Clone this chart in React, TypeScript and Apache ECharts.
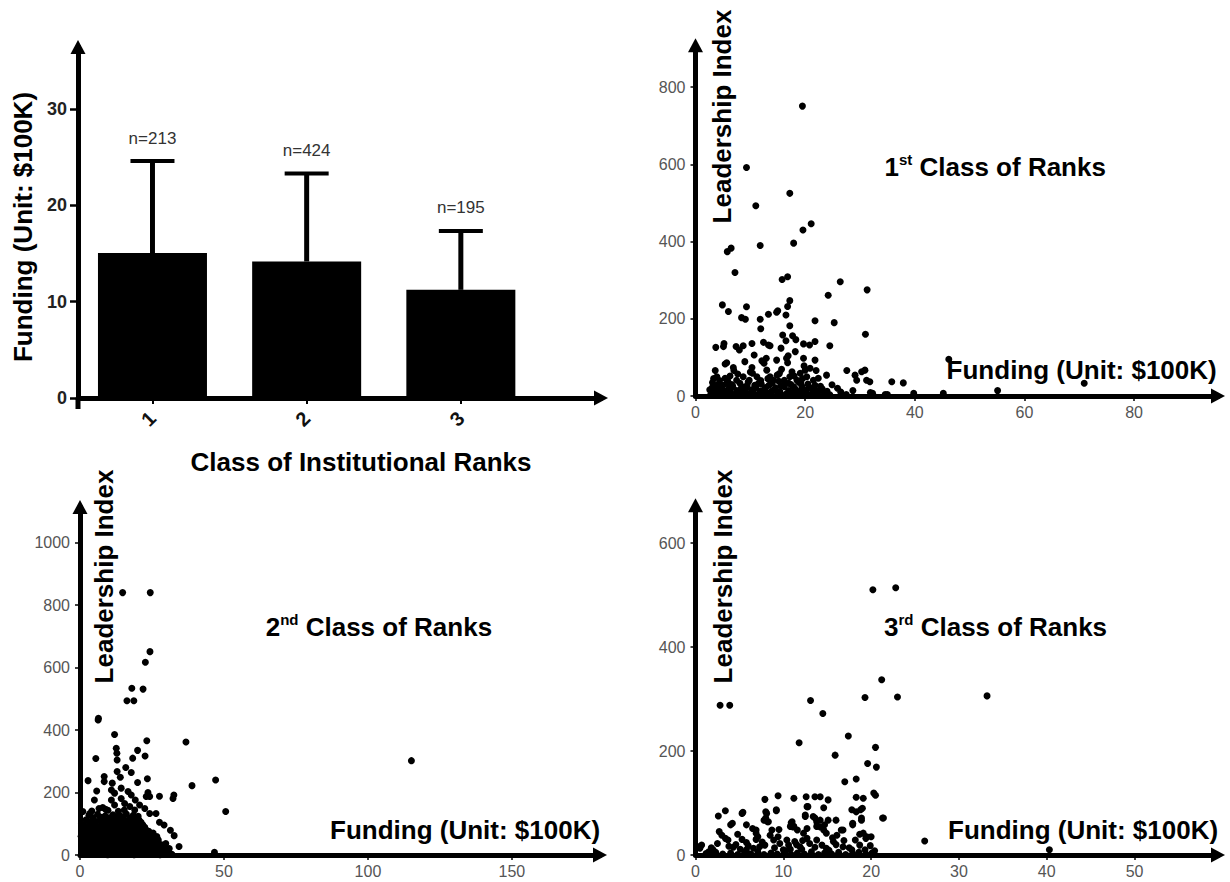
import React, { useEffect, useRef } from 'react';
import * as echarts from 'echarts';

// ---------- Data ----------
const rankClasses = [1, 2, 3];
const meanFunding = [15.05, 14.17, 11.23];
const upperFunding = [24.6, 23.3, 17.35];
const sampleSizes = [213, 424, 195];
const fundingTicks = [0, 10, 20, 30];

const class1FundingTicks = [0, 20, 40, 60, 80];
const class1LeaderTicks = [0, 200, 400, 600, 800];
const class2FundingTicks = [0, 50, 100, 150];
const class2LeaderTicks = [0, 200, 400, 600, 800, 1000];
const class3FundingTicks = [0, 10, 20, 30, 40, 50];
const class3LeaderTicks = [0, 200, 400, 600];

const class1Points = [
  [19.5, 751], [9.3, 592], [17.2, 525], [11.0, 493], [21.1, 446], [19.6, 430], [6.5, 383], [5.8, 374],
  [11.8, 390], [17.9, 396], [7.2, 320], [15.8, 302], [16.8, 309], [26.4, 296], [31.3, 275], [24.2, 261],
  [4.9, 236], [6.0, 219], [9.3, 231], [17.2, 247], [16.8, 232], [8.4, 203], [9.1, 199], [13.3, 212],
  [14.8, 217], [15.0, 221], [16.5, 210], [11.8, 199], [21.8, 195], [25.3, 190], [17.2, 182], [11.9, 174],
  [31.0, 160], [15.9, 158], [17.7, 156], [18.3, 146], [16.5, 143], [3.7, 126], [5.2, 136], [5.1, 128],
  [7.4, 128], [8.0, 119], [8.7, 130], [10.3, 136], [12.4, 139], [13.3, 132], [13.6, 130], [15.6, 124],
  [16.9, 104], [18.2, 115], [19.7, 135], [20.8, 132], [21.8, 141], [24.5, 130], [10.7, 106], [12.1, 91],
  [12.5, 85], [12.9, 98], [14.8, 93], [16.6, 98], [16.8, 86], [19.7, 98], [19.8, 78], [21.8, 93],
  [5.4, 83], [5.7, 86], [6.9, 74], [7.0, 66], [9.0, 89], [10.3, 74], [10.4, 59], [3.6, 66],
  [3.9, 50], [5.4, 46], [5.7, 33], [7.5, 41], [8.7, 50], [9.8, 41], [11.2, 50], [11.5, 33],
  [13.0, 67], [13.6, 50], [14.2, 41], [14.9, 54], [15.7, 69], [16.2, 41], [17.2, 50], [17.6, 63],
  [18.5, 41], [19.1, 59], [20.0, 67], [20.9, 72], [20.3, 50], [21.5, 41], [22.0, 66], [22.4, 46],
  [23.9, 54], [27.6, 66], [29.1, 54], [29.4, 41], [30.3, 63], [30.9, 67], [31.2, 41], [31.8, 37],
  [35.8, 37], [37.9, 34], [46.2, 95], [70.9, 33], [55.1, 14], [39.8, 7], [45.2, 7], [34.6, 4],
  [31.9, 9], [28.7, 14], [25.9, 20], [24.9, 29], [32.3, 7], [35.0, 4],
  [2.8, 5], [2.9, 12], [3.0, 20], [3.2, 26], [3.4, 8], [3.6, 15], [3.8, 2], [4.0, 22],
  [4.2, 10], [4.5, 4], [4.7, 17], [5.0, 28], [5.2, 6], [5.5, 13], [5.8, 3], [6.1, 20],
  [6.4, 9], [6.8, 25], [7.1, 4], [7.5, 14], [7.9, 7], [8.3, 19], [8.6, 2], [9.0, 11],
  [9.4, 27], [9.8, 5], [10.2, 16], [10.6, 8], [11.0, 22], [11.4, 3], [11.8, 13], [12.2, 6],
  [12.6, 18], [13.0, 9], [13.4, 28], [13.8, 4], [14.2, 15], [14.6, 21], [15.0, 7], [15.4, 11],
  [15.8, 2], [16.2, 24], [16.6, 6], [17.0, 14], [17.4, 30], [17.8, 9], [18.2, 18], [18.6, 4],
  [19.0, 12], [19.4, 25], [19.8, 7], [20.2, 16], [20.6, 3], [21.0, 20], [21.4, 10], [21.8, 28],
  [22.2, 5], [22.6, 14], [23.5, 8], [24.5, 3], [26.5, 10], [27.5, 4], [3.1, 35], [4.4, 40],
  [6.6, 30], [8.1, 33], [9.6, 36], [12.0, 31], [14.0, 34], [15.2, 38], [17.0, 33], [18.8, 36],
  [20.5, 31], [22.8, 25], [13.2, 45], [15.3, 58], [18.0, 52], [19.5, 45], [10.0, 62], [8.5, 24],
  [3.3, 45], [4.1, 30], [5.9, 38], [6.3, 52], [7.7, 57], [9.2, 20], [10.8, 28], [11.9, 40],
  [12.8, 22], [13.9, 12], [15.6, 26], [16.4, 33], [17.9, 24], [19.2, 34], [20.8, 22], [21.9, 15],
  [23.1, 19], [24.0, 12], [2.6, 16], [6.0, 12],
];

const class2Points = [
  [14.8, 840], [24.4, 840], [24.3, 651], [22.7, 617], [18.0, 534], [21.9, 531], [16.3, 494], [18.7, 494],
  [6.4, 438], [6.3, 432], [12.0, 386], [23.2, 366], [36.8, 362], [5.5, 309], [12.6, 342], [12.8, 326],
  [12.9, 304], [20.0, 335], [18.3, 310], [22.6, 317], [15.9, 280], [115.1, 302], [12.9, 267], [17.8, 264],
  [14.0, 249], [2.8, 238], [8.4, 251], [8.4, 235], [23.4, 244], [20.0, 232], [11.2, 230], [14.3, 214],
  [5.8, 205], [10.9, 208], [12.0, 198], [16.7, 203], [23.6, 200], [23.0, 187], [24.2, 187], [27.6, 188],
  [32.6, 192], [32.3, 181], [38.9, 222], [47.1, 240], [50.6, 139], [5.0, 176], [14.3, 181], [17.8, 192],
  [19.2, 176], [1.0, 139], [3.4, 133], [6.6, 149], [7.9, 152], [8.9, 146], [10.9, 176], [12.0, 160],
  [15.5, 165], [17.3, 155], [19.0, 144], [20.7, 160], [22.5, 149], [24.2, 133], [26.4, 133], [27.6, 105],
  [29.2, 96], [31.4, 79], [32.7, 62], [34.4, 27], [46.7, 9], [25.4, 70], [26.9, 50], [29.8, 37],
  [31.0, 21], [24.7, 37], [26.7, 59], [0.5, 100], [0.4, 60], [0.6, 20],
  [0.8, 3], [2.4, 5], [4.3, 2], [6.0, 6], [7.9, 3], [9.6, 1], [11.5, 5], [13.2, 2],
  [15.2, 6], [16.8, 3], [18.8, 1], [20.4, 5], [22.3, 2], [24.2, 6], [25.8, 3], [27.8, 1],
  [29.6, 4], [31.9, 2],
  [1.9, 10], [3.7, 11], [5.6, 9], [7.3, 12], [9.2, 10], [10.9, 8], [12.8, 11], [14.6, 9],
  [16.3, 12], [18.1, 10], [19.9, 8], [21.7, 11], [23.4, 9], [25.2, 12], [27.0, 10], [28.9, 8],
  [30.5, 11],
  [1.3, 17], [3.0, 20], [4.9, 15], [6.5, 19], [8.5, 16], [10.1, 21], [12.0, 17], [13.9, 14],
  [15.5, 20], [17.5, 17], [19.1, 15], [21.1, 19], [22.7, 16], [24.7, 21], [26.3, 17], [28.7, 14],
  [30.8, 19],
  [2.0, 25], [3.8, 27], [5.7, 24], [7.4, 28], [9.3, 26], [11.0, 23], [12.9, 27], [14.7, 25],
  [16.4, 28], [18.2, 24], [20.0, 27], [21.8, 25], [23.6, 28], [25.3, 24], [27.1, 26], [29.4, 27],
  [0.9, 35], [2.8, 31], [4.4, 36], [6.4, 33], [8.0, 30], [10.0, 35], [11.6, 32], [13.6, 37],
  [15.2, 33], [17.2, 30], [18.8, 36], [20.8, 32], [22.4, 35], [24.4, 31], [26.0, 36], [28.3, 33],
  [2.1, 41], [3.9, 43], [5.7, 40], [7.5, 44], [9.3, 42], [11.1, 39], [12.9, 43], [14.6, 41],
  [16.4, 44], [18.1, 40], [20.0, 43], [21.7, 41], [23.5, 44], [25.3, 40], [27.0, 42],
  [1.5, 49], [3.1, 52], [5.1, 47], [6.7, 51], [8.7, 48], [10.3, 53], [12.3, 49], [13.9, 46],
  [15.9, 51], [17.5, 48], [19.5, 53], [21.1, 49], [23.1, 46], [24.8, 51], [27.2, 48],
  [2.2, 57], [4.0, 59], [5.8, 56], [7.6, 60], [9.4, 58], [11.2, 55], [13.0, 59], [14.8, 57],
  [16.6, 60], [18.3, 56], [20.1, 59], [21.9, 57], [23.7, 60], [25.7, 56],
  [1.0, 65], [2.9, 68], [4.5, 63], [6.5, 67], [8.1, 64], [10.1, 69], [11.7, 65], [13.7, 62],
  [15.3, 67], [17.3, 64], [18.9, 69], [20.9, 65], [22.5, 62], [24.3, 67],
  [2.3, 73], [4.1, 75], [5.9, 72], [7.7, 76], [9.5, 74], [11.3, 71], [13.1, 75], [14.9, 73],
  [16.7, 76], [18.4, 72], [20.2, 75], [22.0, 73], [23.9, 76],
  [1.7, 81], [3.3, 84], [5.3, 79], [6.9, 83], [8.9, 80], [10.5, 85], [12.5, 81], [14.1, 78],
  [16.1, 83], [17.7, 80], [19.7, 85], [21.3, 81], [23.2, 78],
  [2.4, 89], [4.4, 91], [6.2, 88], [8.0, 92], [9.9, 90], [11.8, 87], [13.6, 91], [15.4, 89],
  [17.2, 92], [19.0, 88], [20.8, 91], [22.5, 89],
  [1.2, 97], [3.6, 100], [5.5, 95], [7.5, 99], [9.1, 96], [11.1, 101], [12.7, 97], [14.7, 94],
  [16.3, 99], [18.3, 96], [19.9, 101], [21.8, 97],
  [3.2, 105], [5.6, 107], [7.9, 104], [10.1, 108], [12.1, 105], [14.1, 103], [16.0, 107], [17.9, 104],
  [19.8, 108], [21.2, 105],
  [2.1, 113], [4.5, 116], [6.9, 111], [8.9, 115], [11.3, 112], [13.0, 117], [15.1, 113], [16.8, 110],
  [18.9, 115], [20.5, 112],
  [4.4, 120], [7.5, 121], [10.0, 119], [12.6, 122], [15.0, 120], [17.3, 118], [19.4, 121],
  [3.1, 127], [6.1, 130], [8.7, 125], [11.4, 129], [13.9, 126], [16.1, 131], [18.5, 127], [20.2, 124],
  [4.1, 141], [9.7, 143], [13.3, 140], [15.4, 144],
];

const class3Points = [
  [20.2, 510], [22.8, 514], [21.2, 337], [19.3, 303], [23.0, 304], [33.2, 306], [2.8, 288], [3.9, 288],
  [13.1, 297], [14.5, 272], [11.8, 216], [17.4, 229], [20.5, 207], [15.9, 192], [19.6, 176], [20.6, 169],
  [17.0, 141], [18.3, 146], [20.3, 119], [20.5, 115], [9.4, 114], [11.2, 109], [12.6, 112], [13.6, 112],
  [14.2, 112], [15.1, 106], [7.9, 107], [18.3, 111], [19.1, 109], [3.4, 85], [5.4, 82], [9.2, 87],
  [8.0, 83], [12.8, 93], [14.6, 91], [19.0, 90], [18.3, 83], [2.6, 75], [21.3, 71], [4.2, 61],
  [4.0, 58], [5.8, 58], [7.8, 67], [8.2, 64], [11.0, 64], [10.8, 55], [12.5, 74], [13.6, 71],
  [14.2, 67], [15.1, 67], [16.0, 67], [17.9, 61], [18.9, 67], [6.5, 51], [6.9, 48], [8.7, 48],
  [9.5, 49], [11.2, 55], [11.6, 48], [12.7, 51], [13.8, 55], [14.6, 48], [14.9, 42], [16.8, 48],
  [20.0, 35], [18.7, 40], [19.4, 32], [26.1, 27], [40.3, 10], [0.3, 16],
  [5.3, 80], [2.7, 45], [3.0, 38], [3.4, 32], [3.7, 29], [3.8, 17], [4.3, 15], [6.9, 42],
  [7.1, 35], [5.3, 30], [5.8, 24], [8.0, 71], [8.3, 64], [8.1, 80], [9.2, 85], [8.5, 38],
  [8.9, 29], [9.4, 35], [9.6, 22], [7.3, 16], [7.9, 19], [6.6, 13], [5.1, 11], [5.8, 10],
  [2.0, 10], [1.5, 6], [0.5, 13], [0.7, 19], [10.4, 29], [10.6, 19], [11.3, 26], [11.9, 16],
  [10.9, 62], [11.1, 54], [10.0, 10], [10.8, 11], [12.3, 42], [12.7, 32], [13.0, 22], [12.5, 77],
  [12.7, 93], [13.4, 74], [13.8, 64], [14.2, 54], [14.7, 58], [13.8, 29], [14.4, 19], [14.9, 13],
  [15.7, 26], [16.1, 38], [16.6, 48], [16.8, 16], [17.8, 87], [17.9, 58], [18.9, 71], [18.8, 87],
  [18.2, 29], [18.7, 19], [19.1, 42], [19.5, 35], [17.8, 10], [19.3, 10], [21.4, 71],
  [1.2, 3], [2.3, 5], [3.1, 2], [4.0, 4], [4.8, 1], [5.6, 5], [6.3, 2], [7.1, 6],
  [7.8, 1], [8.6, 4], [9.3, 2], [10.1, 5], [10.9, 1], [11.6, 4], [12.4, 2], [13.2, 6],
  [14.0, 1], [14.7, 4], [15.5, 2], [16.3, 5], [17.1, 1], [17.9, 3], [18.6, 5], [19.4, 2],
  [20.1, 4],
  [1.8, 14], [2.5, 22], [4.6, 20], [6.0, 18], [7.6, 25], [9.0, 14], [10.3, 8], [11.5, 20],
  [12.1, 11], [13.6, 15], [15.2, 9], [16.0, 20], [16.9, 28], [17.5, 14], [19.9, 18], [20.4, 8],
  [15.6, 33], [12.2, 28], [6.9, 30], [4.8, 40],
];

// ---------- Styles ----------
const BOLD = 'Liberation Sans, Arial, Helvetica, sans-serif';
const NARROW = '"Liberation Sans Narrow", "Arial Narrow", "Liberation Sans", sans-serif';

function arrowLine() {
  return {
    show: true,
    onZero: false,
    lineStyle: { color: '#000', width: 5 },
    symbol: ['none', 'triangle'],
    symbolSize: [15, 14],
  };
}

function scatterAxis(kind: 'x' | 'y', gridIndex: number, max: number, ticks: number[]) {
  return {
    type: 'value',
    gridIndex,
    min: 0,
    max,
    axisLine: arrowLine(),
    axisTick: { show: true, customValues: ticks, length: 5, lineStyle: { color: '#000', width: 1.5 } },
    axisLabel: {
      show: true,
      customValues: ticks,
      formatter: (v: number) => String(v),
      margin: kind === 'x' ? 8 : 10,
      fontFamily: NARROW,
      fontSize: 16,
      color: '#555',
    },
    splitLine: { show: false },
  };
}

function boldText(text: string, x: number, y: number, rotate = false, align = 'left') {
  return {
    type: 'text',
    x,
    y,
    rotation: rotate ? Math.PI / 2 : 0,
    style: {
      text,
      fill: '#000',
      fontFamily: BOLD,
      fontWeight: 'bold',
      fontSize: 26,
      align: rotate ? 'center' : align,
      verticalAlign: 'middle',
      textAlign: rotate ? 'center' : align,
      textVerticalAlign: 'middle',
    },
  };
}

function ordinalTitle(num: string, suffix: string, x: number, y: number) {
  return {
    type: 'text',
    x,
    y,
    style: {
      text: `{a|${num}}{b|${suffix}}{a| Class of Ranks}`,
      align: 'left',
      verticalAlign: 'middle',
      textAlign: 'left',
      textVerticalAlign: 'middle',
      rich: {
        a: { fontFamily: BOLD, fontWeight: 'bold', fontSize: 26, lineHeight: 30, fill: '#000' },
        b: { fontFamily: BOLD, fontWeight: 'bold', fontSize: 15, lineHeight: 18, verticalAlign: 'top', fill: '#000' },
      },
    },
  };
}

const dotStyle = { color: '#000', opacity: 1 };

const option: any = {
  animation: false,
  backgroundColor: '#fff',
  grid: [
    { left: 78, top: 47, width: 523, height: 351 },
    { left: 695.5, top: 45.3, width: 522.5, height: 350.7 },
    { left: 80, top: 507, width: 520, height: 348 },
    { left: 695.5, top: 505.3, width: 522.5, height: 349.7 },
  ],
  xAxis: [
    {
      type: 'value',
      gridIndex: 0,
      min: 0.517,
      max: 3.909,
      axisLine: arrowLine(),
      axisTick: { show: true, customValues: rankClasses, length: 6, lineStyle: { color: '#000', width: 2 } },
      axisLabel: {
        show: true,
        customValues: rankClasses,
        rotate: 45,
        margin: 17,
        fontFamily: BOLD,
        fontWeight: 'bold',
        fontSize: 20,
        color: '#111',
      },
      splitLine: { show: false },
    },
    scatterAxis('x', 1, 95.3, class1FundingTicks),
    scatterAxis('x', 2, 180.6, class2FundingTicks),
    scatterAxis('x', 3, 59.5, class3FundingTicks),
  ],
  yAxis: [
    {
      type: 'value',
      gridIndex: 0,
      min: 0,
      max: 36.44,
      axisLine: arrowLine(),
      axisTick: { show: true, customValues: fundingTicks, length: 8, lineStyle: { color: '#000', width: 2.5 } },
      axisLabel: {
        show: true,
        customValues: fundingTicks,
        margin: 11,
        fontFamily: BOLD,
        fontWeight: 'bold',
        fontSize: 18,
        color: '#222',
      },
      splitLine: { show: false },
    },
    scatterAxis('y', 1, 908.5, class1LeaderTicks),
    scatterAxis('y', 2, 1114, class2LeaderTicks),
    scatterAxis('y', 3, 672.5, class3LeaderTicks),
  ],
  series: [
    {
      type: 'bar',
      xAxisIndex: 0,
      yAxisIndex: 0,
      barWidth: 109,
      itemStyle: { color: '#000' },
      data: rankClasses.map((c, i) => [c, meanFunding[i]]),
      z: 2,
    },
    {
      type: 'custom',
      xAxisIndex: 0,
      yAxisIndex: 0,
      z: 3,
      data: rankClasses.map((c, i) => [c, meanFunding[i], upperFunding[i], sampleSizes[i]]),
      renderItem: (_params: any, api: any) => {
        const x = api.value(0);
        const top = api.coord([x, api.value(1)]);
        const up = api.coord([x, api.value(2)]);
        return {
          type: 'group',
          children: [
            { type: 'line', shape: { x1: top[0], y1: top[1], x2: up[0], y2: up[1] }, style: { stroke: '#000', lineWidth: 5 } },
            { type: 'line', shape: { x1: up[0] - 22, y1: up[1], x2: up[0] + 22, y2: up[1] }, style: { stroke: '#000', lineWidth: 4 } },
            {
              type: 'text',
              x: up[0],
              y: up[1] - 23,
              style: {
                text: 'n=' + api.value(3),
                fill: '#333',
                fontFamily: BOLD,
                fontSize: 17,
                align: 'center',
                verticalAlign: 'middle',
                textAlign: 'center',
                textVerticalAlign: 'middle',
              },
            },
          ],
        };
      },
    },
    { type: 'scatter', xAxisIndex: 1, yAxisIndex: 1, symbol: 'circle', symbolSize: 7, itemStyle: dotStyle, data: class1Points },
    { type: 'scatter', xAxisIndex: 2, yAxisIndex: 2, symbol: 'circle', symbolSize: 7, itemStyle: dotStyle, data: class2Points },
    { type: 'scatter', xAxisIndex: 3, yAxisIndex: 3, symbol: 'circle', symbolSize: 7, itemStyle: dotStyle, data: class3Points },
  ],
  graphic: [
    { type: 'rect', shape: { x: 75.5, y: 398, width: 5, height: 11 }, style: { fill: '#000' } },
    boldText('Funding (Unit: $100K)', 23, 227, true),
    boldText('Class of Institutional Ranks', 361, 462, false, 'center'),
    boldText('Leadership Index', 722, 116.5, true),
    boldText('Leadership Index', 104, 576.5, true),
    boldText('Leadership Index', 723, 576.5, true),
    ordinalTitle('1', 'st', 884.5, 167),
    ordinalTitle('2', 'nd', 265.7, 627),
    ordinalTitle('3', 'rd', 884, 627),
    boldText('Funding (Unit: $100K)', 946.6, 370),
    boldText('Funding (Unit: $100K)', 330, 830),
    boldText('Funding (Unit: $100K)', 948, 830),
  ],
};

export default function App() {
  const ref = useRef<HTMLDivElement>(null);
  useEffect(() => {
    const chart = echarts.init(ref.current as HTMLDivElement, null, { renderer: 'svg' });
    chart.setOption(option);
    return () => chart.dispose();
  }, []);
  return (
    <div
      ref={ref}
      style={{ position: 'fixed', left: 0, top: 0, width: 1230, height: 882, background: '#fff' }}
    />
  );
}
